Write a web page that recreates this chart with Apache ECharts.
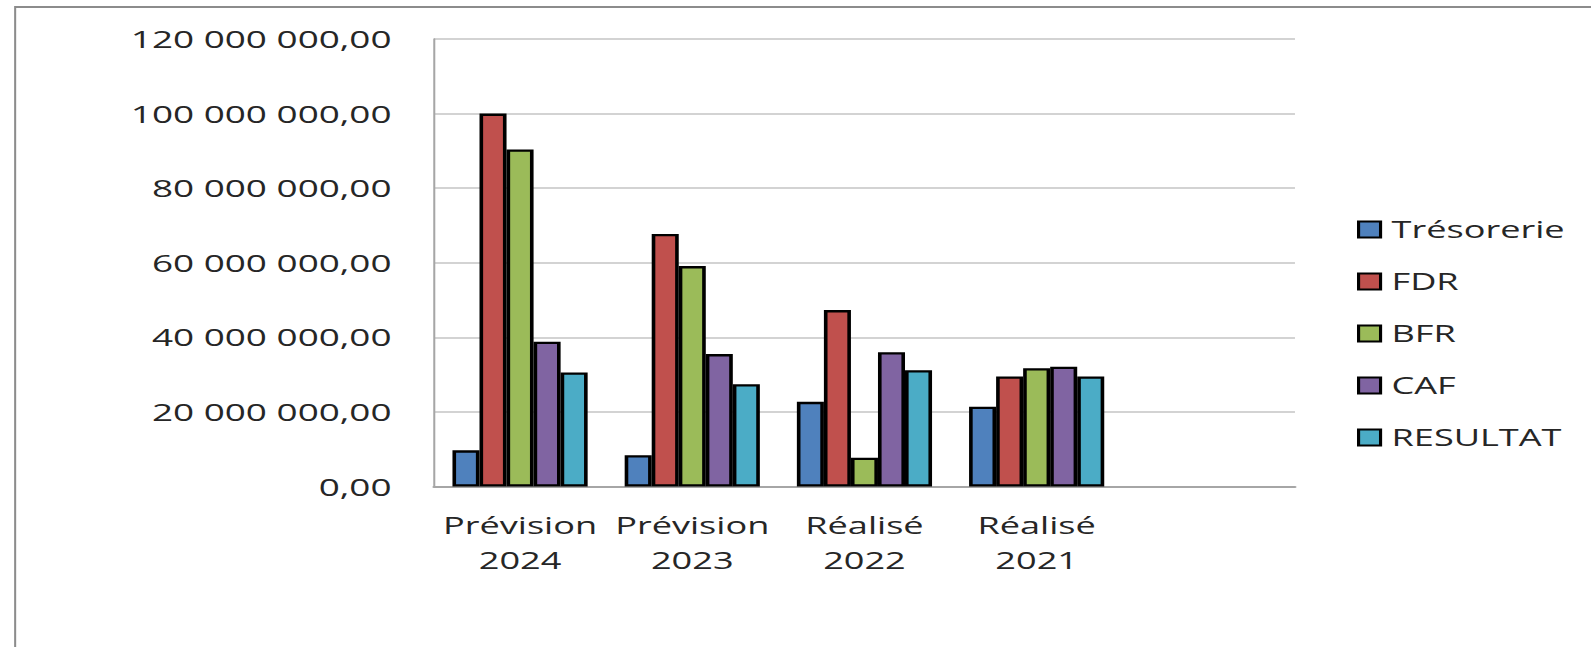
<!DOCTYPE html>
<html>
<head>
<meta charset="utf-8">
<script src="https://cdn.jsdelivr.net/npm/echarts@6/dist/echarts.min.js"></script>
<style>
html,body{margin:0;padding:0;background:#fff;overflow:hidden;width:1591px;height:647px;}
#main{width:1013px;height:647px;transform:scaleX(1.5706);transform-origin:0 0;}
</style>
</head>
<body>
<div id="main"></div>
<script>
// Data (values in euros)
const categories = ['Prévision\n2024', 'Prévision\n2023', 'Réalisé\n2022', 'Réalisé\n2021', ''];
const seriesNames = ['Trésorerie', 'FDR', 'BFR', 'CAF', 'RESULTAT'];
const tresorerie = [9700000, 8400000, 22700000, 21400000];
const fdr = [100000000, 67700000, 47300000, 29500000];
const bfr = [90400000, 59100000, 7700000, 31700000];
const caf = [38800000, 35500000, 36000000, 32100000];
const resultat = [30600000, 27400000, 31200000, 29500000];
const yTicks = [0, 20000000, 40000000, 60000000, 80000000, 100000000, 120000000];

const colors = ['#4F81BD', '#C0504D', '#9BBB59', '#8064A2', '#4BACC6'];
const seriesData = [tresorerie, fdr, bfr, caf, resultat];

function frFormat(v) {
  const parts = v.toFixed(2).split('.');
  const intPart = parts[0].replace(/\B(?=(\d{3})+(?!\d))/g, ' ');
  return intPart + ',' + parts[1];
}

const FONT = '"Open Sans", "Noto Sans", sans-serif';
const chart = echarts.init(document.getElementById('main'), null, {renderer: 'svg'});
const option = {
  animation: false,
  color: colors,
  textStyle: {fontFamily: FONT},
  grid: {left: 276.3, right: 188.5, top: 39, bottom: 160.5, containLabel: false},
  legend: {
    orient: 'vertical',
    left: 859,
    top: 213,
    itemWidth: 14,
    itemHeight: 16,
    itemGap: 29,
    icon: 'rect',
    data: seriesNames,
    itemStyle: {borderColor: '#000', borderWidth: 2},
    textStyle: {fontFamily: FONT, fontSize: 23, color: '#262626', lineHeight: 23, padding: [0, 0, 0, 2]}
  },
  xAxis: {
    type: 'category',
    data: categories,
    axisLine: {show: true, lineStyle: {color: '#A6A6A6', width: 2}},
    axisTick: {show: false},
    axisLabel: {interval: 0, fontFamily: FONT, fontSize: 23, color: '#262626', lineHeight: 35, margin: 21}
  },
  yAxis: {
    type: 'value',
    min: yTicks[0],
    max: yTicks[yTicks.length - 1],
    interval: yTicks[1] - yTicks[0],
    axisLine: {show: true, lineStyle: {color: '#A6A6A6', width: 1.3}},
    axisTick: {show: false},
    splitLine: {lineStyle: {color: '#C4C4C4', width: 1.5}},
    axisLabel: {fontFamily: FONT, fontSize: 23.5, color: '#262626', margin: 27, formatter: frFormat}
  },
  graphic: [
    {type: 'rect', shape: {x: 9.5, y: 6, width: 1100, height: 2}, style: {fill: '#8C8C8C'}, silent: true},
    {type: 'rect', shape: {x: 9.0, y: 6, width: 1.3, height: 700}, style: {fill: '#8C8C8C'}, silent: true}
  ],
  series: seriesNames.map((name, i) => ({
    name: name,
    type: 'bar',
    data: seriesData[i],
    barGap: '0%',
    barCategoryGap: '21.5%',
    itemStyle: {color: colors[i], borderColor: '#000', borderWidth: 2.3}
  }))
};
chart.setOption(option);
</script>
</body>
</html>
